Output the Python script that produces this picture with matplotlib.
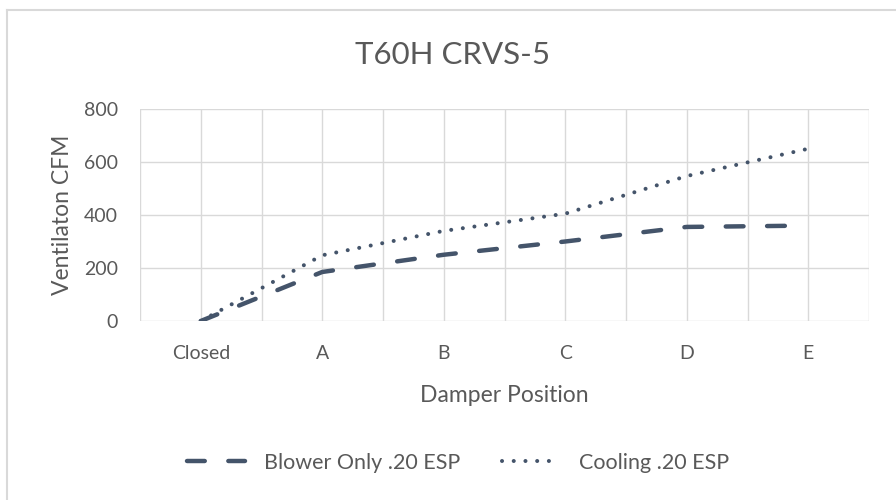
import numpy as np
import matplotlib
matplotlib.use('Agg')
import matplotlib.pyplot as plt
from matplotlib.lines import Line2D

categories = ['Closed', 'A', 'B', 'C', 'D', 'E']
blower = [0, 185, 250, 300, 355, 360]
cooling = [0, 248, 340, 405, 547, 650]
y_ticks = [0, 200, 400, 600, 800]

line_color = '#44546A'
grid_color = '#D9D9D9'
text_color = '#595959'

plt.rcParams['font.family'] = ['Lato', 'DejaVu Sans']

fig = plt.figure(figsize=(8.96, 5), dpi=100)
ax = fig.add_axes([140/896, 1-321/500, 729/896, 212/500])

x = np.arange(len(categories))
ax.plot(x, blower, color=line_color, lw=3.2, dashes=(4, 5.3),
        dash_capstyle='round', label='Blower Only .20 ESP')
ax.plot(x, cooling, color=line_color, lw=2.9, dashes=(0.01, 2.9),
        dash_capstyle='round', label='Cooling .20 ESP')

ax.set_xlim(-0.5, len(categories) - 0.5)
ax.set_ylim(0, 800)
# ticks on every half category so the grid has lines between and on categories
half = np.arange(-0.5, len(categories), 0.5)
ax.set_xticks(half)
ax.set_xticklabels([categories[int(h)] if h == int(h) and h >= 0 else '' for h in half])
ax.set_yticks(y_ticks)
ax.grid(True, axis='both', color=grid_color, lw=1)
ax.set_axisbelow(True)
for s in ax.spines.values():
    s.set_visible(False)
ax.tick_params(which='both', length=0)
ax.tick_params(axis='x', pad=17, labelsize=14, labelcolor=text_color)
ax.tick_params(axis='y', pad=16, labelsize=14, labelcolor=text_color)

ax.set_xlabel('Damper Position', fontsize=16.5, color=text_color, labelpad=17)
ax.set_ylabel('Ventilaton CFM', fontsize=16.5, color=text_color, labelpad=8)
fig.text(453/896, 1-55/500, 'T60H CRVS-5', fontsize=22.5, color=text_color,
         ha='center', va='center')

leg = fig.legend(loc='center', bbox_to_anchor=(458/896, 1-463/500), ncol=2,
                 frameon=False, fontsize=15.5, handlelength=2.7,
                 columnspacing=1.9, handletextpad=0.9, labelcolor=text_color)

# chart border (top and left only visible)
fig.add_artist(Line2D([7/896, 7/896], [0, 1-10/500], color=grid_color, lw=1.5))
fig.add_artist(Line2D([7/896, 1], [1-10/500, 1-10/500], color=grid_color, lw=1.5))

fig.savefig('out.png', dpi=100, facecolor='white')
